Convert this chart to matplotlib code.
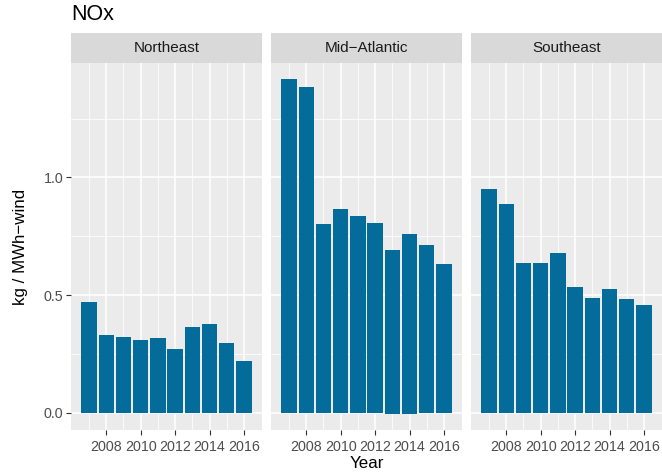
import matplotlib.pyplot as plt
from matplotlib.ticker import MultipleLocator, FixedLocator

plt.rcParams['font.family'] = ['Liberation Sans', 'DejaVu Sans']

years = list(range(2007, 2017))
regions = ['Northeast', 'Mid\u2212Atlantic', 'Southeast']

northeast = [0.469, 0.329, 0.321, 0.308, 0.317, 0.271, 0.363, 0.376, 0.295, 0.219]
mid_atlantic = [1.418, 1.384, 0.803, 0.867, 0.838, 0.808, 0.693, 0.761, 0.714, 0.634]
mid_atlantic_neg = [0, 0, 0, 0, 0, 0, -0.006, -0.006, 0, 0]
southeast = [0.952, 0.888, 0.638, 0.638, 0.680, 0.536, 0.486, 0.524, 0.482, 0.456]

values = [northeast, mid_atlantic, southeast]
negs = [[0] * 10, mid_atlantic_neg, [0] * 10]

bar_color = '#036c9a'
W, H = 662, 476
fig = plt.figure(figsize=(W / 100, H / 100), dpi=100)

panel_left = [71, 271, 471]
panel_w = 191
panel_top = 63
panel_bottom = 430
strip_top = 33

for i in range(3):
    ax = fig.add_axes([panel_left[i] / W, 1 - panel_bottom / H, panel_w / W, (panel_bottom - panel_top) / H])
    ax.set_facecolor('#ebebeb')
    ax.bar(years, values[i], width=0.9, color=bar_color, zorder=3)
    ax.bar(years, negs[i], width=0.9, color=bar_color, zorder=3)
    ax.set_xlim(2005.95, 2017.05)
    ax.set_ylim(-0.073, 1.486)
    ax.xaxis.set_major_locator(FixedLocator([2008, 2010, 2012, 2014, 2016]))
    ax.xaxis.set_minor_locator(FixedLocator([2007, 2009, 2011, 2013, 2015]))
    ax.yaxis.set_major_locator(MultipleLocator(0.5))
    ax.yaxis.set_minor_locator(FixedLocator([0.25, 0.75, 1.25]))
    ax.grid(which='major', color='white', linewidth=1.1, zorder=0)
    ax.grid(which='minor', color='white', linewidth=0.55, zorder=0)
    ax.set_axisbelow(True)
    for s in ax.spines.values():
        s.set_visible(False)
    ax.tick_params(which='major', length=3.5, width=0.8, color='#333333',
                   labelcolor='#4d4d4d', labelsize=10.3)
    ax.tick_params(axis='x', pad=4)
    ax.tick_params(axis='y', pad=2)
    ax.tick_params(which='minor', length=0)
    if i == 0:
        ax.yaxis.set_major_formatter(plt.FuncFormatter(lambda v, p: f'{v:.1f}'))
        ax.set_ylabel('kg / MWh\u2212wind', fontsize=12.2)
        ax.yaxis.set_label_coords(-0.225, 0.5)
    else:
        ax.tick_params(axis='y', which='both', left=False, labelleft=False)
    if i == 1:
        ax.set_xlabel('Year', fontsize=12.2)
        ax.xaxis.set_label_coords(0.5, -0.072)

    sax = fig.add_axes([panel_left[i] / W, 1 - panel_top / H, panel_w / W, (panel_top - strip_top) / H])
    sax.set_facecolor('#d9d9d9')
    sax.set_xticks([])
    sax.set_yticks([])
    for s in sax.spines.values():
        s.set_visible(False)
    sax.text(0.5, 0.5, regions[i], ha='center', va='center', fontsize=11, color='#1a1a1a',
             transform=sax.transAxes)

fig.text(71 / W, 1 - 15 / H, 'NOx', fontsize=15.5, ha='left', va='center')

fig.savefig('out.png', dpi=100)
